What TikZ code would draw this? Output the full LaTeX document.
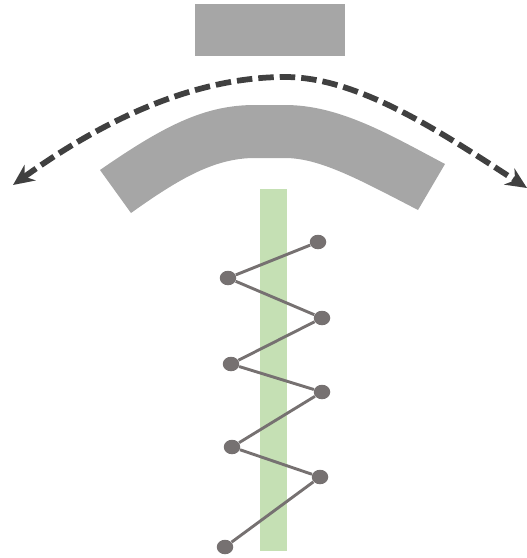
\documentclass[tikz,border=0pt]{standalone}
\usetikzlibrary{arrows.meta,shapes.geometric}
\definecolor{bandgray}{HTML}{A6A6A6}
\definecolor{stripgreen}{HTML}{C5E0B4}
\definecolor{sweepdark}{HTML}{404040}
\definecolor{dotgray}{HTML}{767171}
\tikzset{
  dot/.style={ellipse,fill=dotgray,inner sep=0pt,minimum width=0.33cm,minimum height=0.29cm},
  link/.style={draw=dotgray,line width=0.058cm}
}
\begin{document}
\begin{tikzpicture}[x=0.02cm,y=-0.02cm]
        \useasboundingbox (0,0) rectangle (527,558);
        \fill[bandgray] (195,4) rectangle (345,56);
        \fill[bandgray] (100,170) .. controls (165,125) and (205,105) .. (255,105) -- (285,105)
          .. controls (340,105) and (390,135) .. (445,164) -- (418,210)
          .. controls (360,180) and (320,158) .. (285,158) -- (255,158)
          .. controls (215,158) and (180,178) .. (131,213) -- cycle;
        \fill[stripgreen] (260,189) rectangle (287,551);
        \coordinate (left) at (13,185);
        \coordinate (top) at (285,77);
        \coordinate (right) at (527,188);
        \draw[sweepdark,line width=0.115cm,dash pattern=on 0.31cm off 0.12cm,{Stealth[length=0.42cm,width=0.38cm]}-{Stealth[length=0.42cm,width=0.38cm]}]
          (left) .. controls (110,115) and (200,77) .. (top)
          .. controls (360,77) and (445,135) .. (right);
        \node[dot] (p1) at (318,242) {};
        \node[dot] (p2) at (228,278) {};
        \node[dot] (p3) at (322,318) {};
        \node[dot] (p4) at (231,364) {};
        \node[dot] (p5) at (322,392) {};
        \node[dot] (p6) at (232,447) {};
        \node[dot] (p7) at (320,477) {};
        \node[dot] (p8) at (225,547) {};
        \draw[link] (p1) -- (p2);
        \draw[link] (p2) -- (p3);
        \draw[link] (p3) -- (p4);
        \draw[link] (p4) -- (p5);
        \draw[link] (p5) -- (p6);
        \draw[link] (p6) -- (p7);
        \draw[link] (p7) -- (p8);
      \end{tikzpicture}
\end{document}
